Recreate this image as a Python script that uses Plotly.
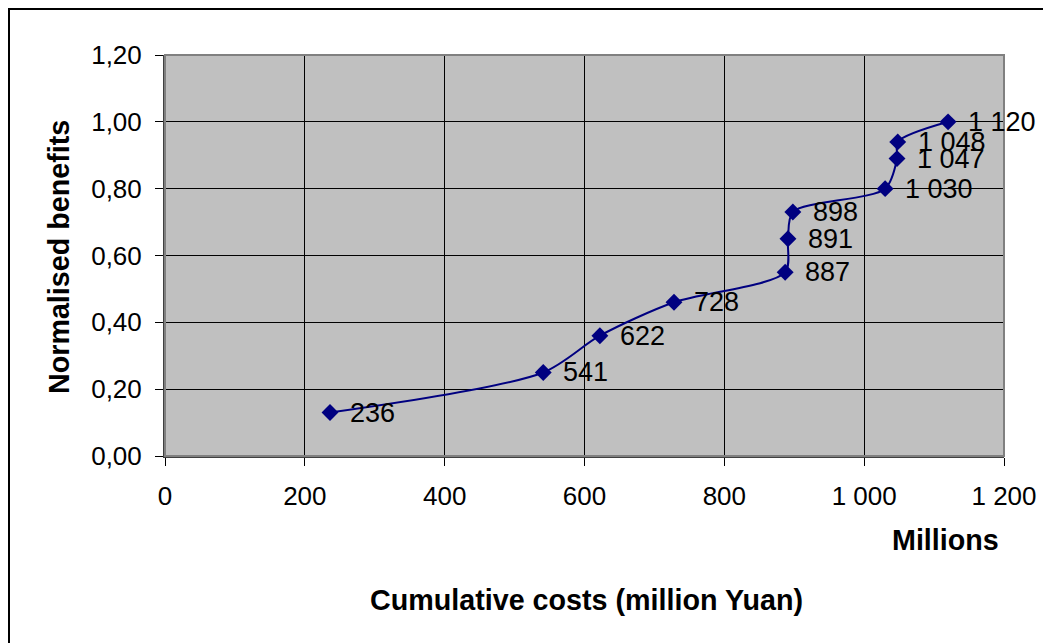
import plotly.graph_objects as go

costs = [236, 541, 622, 728, 887, 891, 898, 1030, 1047, 1048, 1120]
benefits = [0.13, 0.25, 0.36, 0.46, 0.55, 0.65, 0.73, 0.80, 0.89, 0.94, 1.00]
x_ticks = [0, 200, 400, 600, 800, 1000, 1200]
y_ticks = [0.0, 0.2, 0.4, 0.6, 0.8, 1.0, 1.2]

labels = [f"{v:,}".replace(",", " ") for v in costs]

OFF = 8  # browser body margin
W, H = 1051 - OFF, 643 - OFF
# target plot area in page pixels
L, R, T, B = 165, 1004, 55, 456
FONT = "Liberation Sans, Arial"

fig = go.Figure()
fig.add_trace(go.Scatter(
    x=costs, y=benefits, mode="lines+markers",
    line=dict(color="#000080", width=2, shape="spline", smoothing=0.8),
    marker=dict(symbol="diamond", size=13, color="#000080"),
    hoverinfo="skip", showlegend=False,
))

for xv, yv, lab in zip(costs, benefits, labels):
    fig.add_annotation(x=xv, y=yv, text=lab, showarrow=False, xanchor="left",
                       yanchor="middle", xshift=18, yshift=0,
                       font=dict(family=FONT, size=27, color="black"))

def px_x(p):
    return (p - L) / (R - L)

def px_y(p):
    return (B - p) / (B - T)

# outer border (top and left visible)
fig.add_shape(type="rect", xref="paper", yref="paper",
              x0=px_x(OFF + 1), x1=px_x(1080), y0=px_y(680), y1=px_y(9),
              line=dict(color="black", width=2), layer="below")

TITLE = 28.7
fig.add_annotation(xref="paper", yref="paper", x=px_x(59), y=px_y(257),
                   xanchor="center", yanchor="middle",
                   text="<b>Normalised benefits</b>", textangle=-90, showarrow=False,
                   font=dict(family=FONT, size=TITLE, color="black"))
fig.add_annotation(xref="paper", yref="paper", x=px_x(1001), y=px_y(540),
                   xanchor="right", yanchor="middle",
                   text="<b>Millions</b>", showarrow=False,
                   font=dict(family=FONT, size=TITLE, color="black"))
fig.add_annotation(xref="paper", yref="paper", x=px_x(586), y=px_y(600),
                   xanchor="center", yanchor="middle",
                   text="<b>Cumulative costs (million Yuan)</b>", showarrow=False,
                   font=dict(family=FONT, size=TITLE, color="black"))

fig.update_layout(
    width=W, height=H,
    margin=dict(l=L - OFF, r=(W + OFF) - R, t=T - OFF, b=(H + OFF) - B, pad=0),
    paper_bgcolor="white", plot_bgcolor="#C0C0C0",
    separators=", ",
    font=dict(family=FONT, size=26, color="black"),
    xaxis=dict(range=[0, 1200], tickvals=x_ticks, tickformat=",d",
               showgrid=True, gridcolor="black", gridwidth=1,
               ticks="outside", ticklen=8, tickcolor="black",
               showline=True, linecolor="#404040", linewidth=2, mirror=False,
               zeroline=False, tickfont=dict(size=26), fixedrange=True,
               ticklabelstandoff=8),
    yaxis=dict(range=[0, 1.2], tickvals=y_ticks, tickformat=".2f",
               showgrid=True, gridcolor="black", gridwidth=1,
               ticks="outside", ticklen=8, tickcolor="black",
               showline=True, linecolor="#404040", linewidth=2,
               zeroline=False, tickfont=dict(size=26), fixedrange=True,
               ticklabelstandoff=8),
)
# plot-area right/top border in gray
fig.add_shape(type="rect", xref="paper", yref="paper", x0=0, x1=1, y0=0, y1=1,
              line=dict(color="#808080", width=2), layer="above")

fig.write_html("out.html")
